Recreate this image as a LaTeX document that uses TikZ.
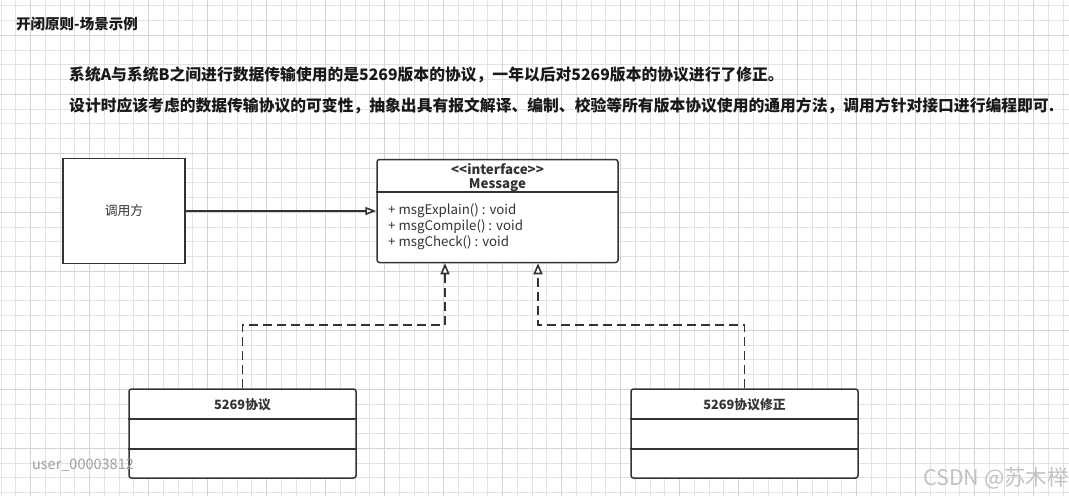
\documentclass[tikz,border=0pt]{standalone}
\usepackage{fontspec}
\setmainfont{Noto Sans CJK SC}
\usetikzlibrary{positioning}
\usetikzlibrary{arrows.meta}

\definecolor{gridminor}{HTML}{E2E2E2}
\definecolor{gridmajor}{HTML}{D4D4D4}
\definecolor{umlgray}{HTML}{333333}

\tikzset{
	umlbox/.style = {draw = umlgray, line width = 1.5pt, rounded corners = 2.5pt, fill = white, inner sep = 0pt},
	umlline/.style = {draw = umlgray, line width = 1.6pt},
	realize/.style = {umlline, dash pattern = on 9pt off 5pt, -{Triangle[length = 11pt, width = 9pt, fill = white]}},
	assoc/.style = {umlline, -{Triangle[length = 11pt, width = 8pt, fill = white]}},
	umltext/.style = {text = umlgray, font = \fontsize{13.3}{15}\selectfont, inner sep = 0pt},
	umlhead/.style = {umltext, font = \fontsize{13.3}{15}\selectfont\bfseries}
}

\begin{document}
\begin{tikzpicture}[x = 1pt, y = -1pt]
			\useasboundingbox (0, 0) rectangle (1069, 496);
			\fill[white] (0, 0) rectangle (1069, 496);
			\foreach \i in {0, ..., 72}
				\draw[gridminor, line width = 1pt] ({1 + 14.75 * \i}, 0)--({1 + 14.75 * \i}, 496);
			\foreach \i in {0, ..., 33}
				\draw[gridminor, line width = 1pt] (0, {5.8 + 14.75 * \i})--(1069, {5.8 + 14.75 * \i});
			\foreach \i in {0, ..., 17}
				\draw[gridmajor, line width = 1.2pt] ({30.5 + 59 * \i}, 0)--({30.5 + 59 * \i}, 496);
			\foreach \i in {0, ..., 7}
				\draw[gridmajor, line width = 1.2pt] (0, {35.3 + 59 * \i})--(1069, {35.3 + 59 * \i});

			\node[anchor = west, inner sep = 0pt, font = \fontsize{14.5}{16}\selectfont\bfseries, text = black!90] (title) at (16, 24) {开闭原则-场景示例};
			\node[anchor = west, inner sep = 0pt, font = \fontsize{15.8}{18}\selectfont\bfseries, text = black!90] (line1) at (69, 75) {系统A与系统B之间进行数据传输使用的是5269版本的协议，一年以后对5269版本的协议进行了修正。};
			\node[anchor = west, inner sep = 0pt, font = \fontsize{15.8}{18}\selectfont\bfseries, text = black!90, below = 31pt of line1.west, anchor = west] (line2) {设计时应该考虑的数据传输协议的可变性，抽象出具有报文解译、编制、校验等所有版本协议使用的通用方法，调用方针对接口进行编程即可.};

			\node[umlbox, rounded corners = 0pt, minimum width = 122, minimum height = 105] (caller) at (124, 211) {};
			\node[umltext, font = \fontsize{12.8}{14}\selectfont] at (caller.center) {调用方};

			\node[umlbox, minimum width = 241, minimum height = 103] (msg) at (497.5, 211) {};
			\draw[umlline, line width = 1.5pt] (msg.west |- 0, 192)--(msg.east |- 0, 192);
			\node[umlhead] at (497.5, 169) {<{}<interface>{}>};
			\node[umlhead] at (497.5, 185) {Message};
			\node[umltext, anchor = west] (m1) at (388, 211) {+ msgExplain() : void};
			\node[umltext, anchor = west] (m2) at (388, 227) {+ msgCompile() : void};
			\node[umltext, anchor = west] (m3) at (388, 243) {+ msgCheck() : void};

			\node[umlbox, minimum width = 227, minimum height = 89] (proto) at (242.5, 433.5) {};
			\draw[umlline, line width = 1.5pt] (proto.west |- 0, 419)--(proto.east |- 0, 419);
			\draw[umlline, line width = 1.5pt] (proto.west |- 0, 449)--(proto.east |- 0, 449);
			\node[umlhead, font = \fontsize{12.8}{14}\selectfont\bfseries] at (242.5, 405) {5269协议};

			\node[umlbox, minimum width = 227, minimum height = 89] (fixed) at (744.5, 433.5) {};
			\draw[umlline, line width = 1.5pt] (fixed.west |- 0, 419)--(fixed.east |- 0, 419);
			\draw[umlline, line width = 1.5pt] (fixed.west |- 0, 449)--(fixed.east |- 0, 449);
			\node[umlhead, font = \fontsize{12.8}{14}\selectfont\bfseries] at (744.5, 405) {5269协议修正};

			\draw[assoc] (caller.east)--(msg.west |- caller.east);
			\draw[realize] (proto.north) |- (445, 325)--(msg.south -| 445, 0);
			\draw[realize] (fixed.north) |- (538, 325)--(msg.south -| 538, 0);

			\node[text = black!38, font = \fontsize{14.5}{16}\selectfont, inner sep = 0pt] (wm1) at (83, 465) {user\_00003812};
			\node[text = black!24, font = \fontsize{21.5}{24}\selectfont, inner sep = 0pt] (wm2) at (996, 478) {CSDN @苏木榉};
		\end{tikzpicture}
\end{document}
